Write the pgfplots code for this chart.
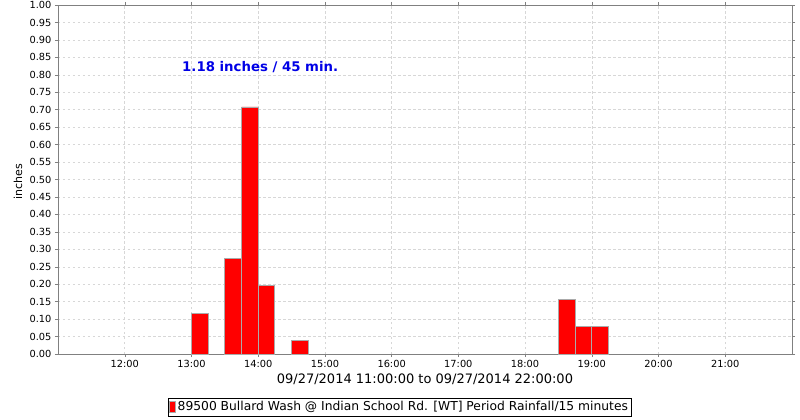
\documentclass[border=0pt]{standalone}
\usepackage{pgfplots}
\pgfplotsset{compat=1.18}
\usepackage{fontspec}
\setmainfont{DejaVu Sans}
\definecolor{gridgray}{RGB}{215,215,215}
\definecolor{axgray}{RGB}{128,128,128}
\definecolor{baredge}{RGB}{170,170,170}
\definecolor{annblue}{RGB}{0,0,230}
\begin{document}
\begin{tikzpicture}[x=1pt,y=1pt]
\useasboundingbox (-58pt,-66pt) rectangle (742pt,354pt);
\begin{axis}[
  name=ax,
  scale only axis, width=734pt, height=349pt,
  at={(0pt,0pt)}, anchor=south west,
  xmin=11, xmax=22, ymin=0, ymax=1,
  xtick={12,13,14,15,16,17,18,19,20,21},
  xticklabels={12:00,13:00,14:00,15:00,16:00,17:00,18:00,19:00,20:00,21:00},
  ytick={0,0.05,...,1.001},
  yticklabel style={/pgf/number format/fixed, /pgf/number format/fixed zerofill, /pgf/number format/precision=2},
  /pgf/number format/assume math mode=true,
  ticklabel style={font=\fontsize{9.8}{11}\selectfont, text=black},
  tick align=outside, major tick length=3pt,
  tick style={axgray, thin},
  axis line style={axgray, line width=0.8pt},
  grid=major, major grid style={gridgray, dash pattern=on 2.5pt off 2.5pt, line width=0.5pt},
  xlabel={09/27/2014 11:00:00 to 09/27/2014 22:00:00},
  xlabel style={font=\fontsize{13}{15}\selectfont, at={(0.5,0)}, anchor=north, yshift=-16pt},
  legend style={at={(0.4653,-0.152)}, anchor=center, draw=black, line width=0.8pt,
     font=\fontsize{12.3}{14}\selectfont, inner xsep=1pt, inner ysep=1.5pt},
  legend cell align=left,
]
\addplot[ybar, bar width=0.25, bar shift=0pt, fill=red, draw=baredge, line width=0.8pt,
  legend image code/.code={\draw[fill=red, draw=baredge, line width=0.6pt] (0pt,-5.5pt) rectangle (6pt,5.5pt);}]
  coordinates {
  (13.125,0.117)
  (13.625,0.275)
  (13.875,0.708)
  (14.125,0.197)
  (14.625,0.040)
  (18.625,0.157)
  (18.875,0.079)
  (19.125,0.079)
  };
\addlegendentry{89500 Bullard Wash @ Indian School Rd. [WT] Period Rainfall/15 minutes}
\node[font=\bfseries\fontsize{13.3}{15}\selectfont, text=annblue] at (axis cs:14.03,0.823) {1.18 inches / 45 min.};
\end{axis}
\node[rotate=90, anchor=center, font=\fontsize{11}{13}\selectfont] at (-40pt,172pt) {inches};
\end{tikzpicture}
\end{document}
